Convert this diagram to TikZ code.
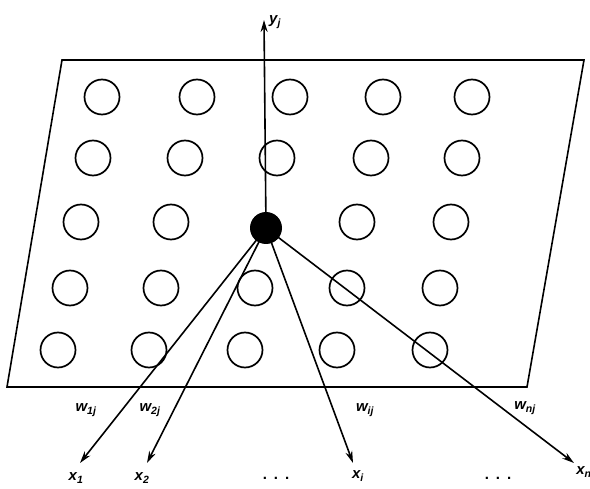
\documentclass[tikz,border=0pt]{standalone}
\usepackage{fontspec}
\setmainfont{Liberation Sans}
\usetikzlibrary{arrows.meta}
\newcommand{\lbl}[2]{\bfseries\itshape #1\textsubscript{\bfseries\itshape #2}}
\tikzset{
  unit/.style={circle, draw, line width=1.7pt, minimum width=34pt, minimum height=35pt, inner sep=0pt},
  hub/.style={circle, fill=black, minimum size=32pt, inner sep=0pt},
  conn/.style={line width=1.6pt, -{Stealth[length=12pt,width=7pt]}},
  lab/.style={font=\fontsize{15pt}{17pt}\selectfont, inner sep=1pt},
  frame/.style={line width=1.6pt}
}
\begin{document}
\begin{tikzpicture}[x=1pt,y=-1pt]
\useasboundingbox (0,0) rectangle (590,489);
\draw[frame] (62,60) -- (584,60) -- (527,387) -- (7,387) -- cycle;
% grid of units
\foreach \x [count=\i] in {102,197,290,383,472} \node[unit] (a\i) at (\x,97) {};
\foreach \x [count=\i] in {93,185,277,371,462} \node[unit] (b\i) at (\x,158) {};
\foreach \x [count=\i] in {81,171,357,451} \node[unit] (c\i) at (\x,222) {};
\foreach \x [count=\i] in {70,161,255,347,440} \node[unit] (d\i) at (\x,288) {};
\foreach \x [count=\i] in {58,149,245,337,430} \node[unit] (e\i) at (\x,350) {};
\node[hub] (h) at (266,228) {};
% output
\coordinate (ytop) at (264,20);
\node[lab, anchor=west] (yj) at (268,22) {\lbl{y}{j}};
\draw[conn] (h.center) -- (ytop);
% inputs
\node[lab] (x1) at (76,478) {\lbl{x}{1}};
\node[lab] (x2) at (142,478) {\lbl{x}{2}};
\node[lab] (xi) at (358,476) {\lbl{x}{i}};
\node[lab] (xn) at (584,472) {\lbl{x}{n}};
\node[lab] (d1) at (276,478) {\textbf{.\hspace{7pt}.\hspace{7pt}.}};
\node[lab] (d2) at (498,478) {\textbf{.\hspace{7pt}.\hspace{7pt}.}};
\coordinate (t1) at (80,463);
\coordinate (t2) at (147,463);
\coordinate (ti) at (353,463);
\coordinate (tn) at (574,463);
\draw[conn] (h.center) -- (t1);
\draw[conn] (h.center) -- (t2);
\draw[conn] (h.center) -- (ti);
\draw[conn] (h.center) -- (tn);
\node[lab] (w1) at (86,410) {\lbl{w}{1j}};
\node[lab] (w2) at (150,410) {\lbl{w}{2j}};
\node[lab] (wi) at (365,410) {\lbl{w}{ij}};
\node[lab] (wn) at (525,408) {\lbl{w}{nj}};
\end{tikzpicture}
\end{document}
